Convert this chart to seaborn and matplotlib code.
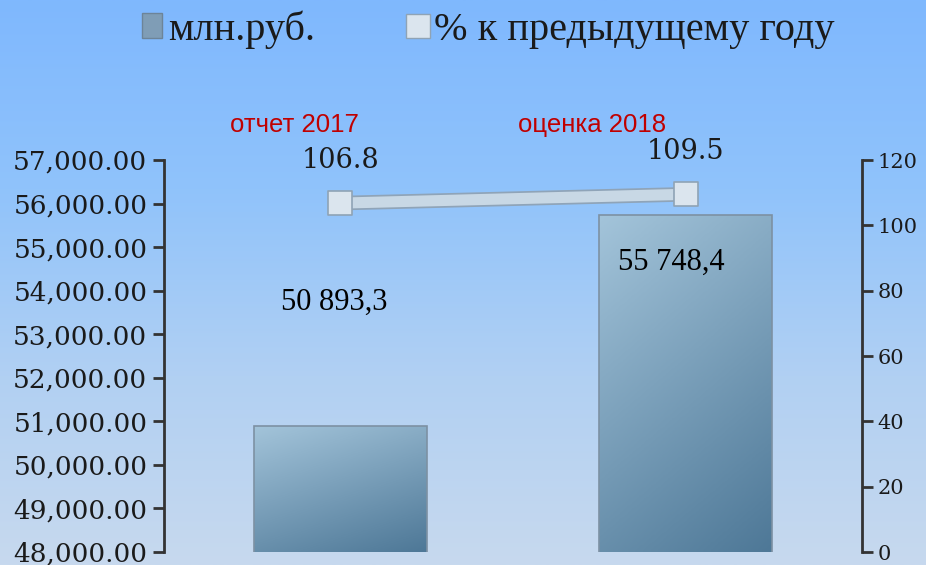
import numpy as np
import pandas as pd
import matplotlib
matplotlib.use("Agg")
import matplotlib.pyplot as plt
from matplotlib.colors import LinearSegmentedColormap
from matplotlib.lines import Line2D
from matplotlib.patches import Patch
import matplotlib.patheffects as pe
import seaborn as sb

categorii = ["отчет 2017", "оценка 2018"]
mln_rub = [50893.3, 55748.4]
procent = [106.8, 109.5]
etichete_bare = ["50 893,3", "55 748,4"]
etichete_procent = ["106.8", "109.5"]
ticks_stanga = [48000, 49000, 50000, 51000, 52000, 53000, 54000, 55000, 56000, 57000]
ticks_dreapta = [0, 20, 40, 60, 80, 100, 120]

sb.set_style("white")
plt.rcParams["font.family"] = ["DejaVu Serif"]
plt.rcParams["text.color"] = "#1a1a1a"

W, H = 926, 565
fig = plt.figure(figsize=(W / 100, H / 100), dpi=100)

# fundal cu gradient vertical
bg = fig.add_axes([0, 0, 1, 1], zorder=-10)
bg_cmap = LinearSegmentedColormap.from_list(
    "bg", ["#7fb8fe", "#90c3fb", "#b1d0f3", "#c7d9ee"])
bg.imshow(np.linspace(0, 1, 256).reshape(-1, 1), aspect="auto", cmap=bg_cmap,
          extent=[0, 1, 0, 1], origin="upper")
bg.set_axis_off()

ax = fig.add_axes([164 / W, 1 - 552 / H, (862 - 164) / W, (552 - 160) / H])
ax.patch.set_visible(False)

t = pd.DataFrame({"categorie": categorii, "valoare": mln_rub})
sb.barplot(data=t, x="categorie", y="valoare", ax=ax, width=0.5,
           color="#7a9ab5", edgecolor="#7d91a3", linewidth=1.2, saturation=1)
ax.set_ylim(48000, 57000)
ax.set_xlim(-0.51, 1.51)

# gradient pe bare (stanga-sus deschis, dreapta-jos inchis)
bar_cmap = LinearSegmentedColormap.from_list("bar", ["#a3c4da", "#4e7897"])
gy, gx = np.mgrid[0:1:100j, 0:1:100j]
grad = 0.7 * gy + 0.3 * gx
for bara in ax.patches:
    x0, w, h = bara.get_x(), bara.get_width(), bara.get_height()
    im = ax.imshow(grad, cmap=bar_cmap, aspect="auto", origin="upper",
                   extent=[x0, x0 + w, 48000, h], zorder=bara.get_zorder() + 0.1)
    im.set_clip_path(bara)
    bara.set_facecolor("none")
    bara.set_zorder(bara.get_zorder() + 0.2)

ax.set_xlabel("")
ax.set_ylabel("")
ax.set_xticks([])
ax.set_yticks(ticks_stanga)
ax.set_yticklabels(["{:,.2f}".format(v) for v in ticks_stanga], fontsize=19)
ax.tick_params(axis="y", direction="out", length=8, width=2, color="#333333",
               pad=4, left=True, labelcolor="#1a1a1a")
for s in ["top", "right", "bottom"]:
    ax.spines[s].set_visible(False)
ax.spines["left"].set_color("#333333")
ax.spines["left"].set_linewidth(2)

for i, (v, et) in enumerate(zip(mln_rub, etichete_bare)):
    dy = 124 if i == 0 else -48
    dx = -6 if i == 0 else -14
    ax.annotate(et, (i, v), xytext=(dx * 0.72, dy * 0.72), textcoords="offset points",
                ha="center", va="center", fontsize=22, family="Liberation Serif",
                color="black")

for i, c in enumerate(categorii):
    dx = -46 if i == 0 else -94
    ax.annotate(c, (i, 1), xycoords=("data", "axes fraction"),
                xytext=(dx * 0.72, 35 * 0.72), textcoords="offset points",
                ha="center", va="center", fontsize=18.5, family="Liberation Sans",
                color="#c00000")

# axa secundara pentru procente
ax2 = ax.twinx()
ax2.set_ylim(0, 120)
poz = np.arange(len(categorii))
sb.lineplot(x=poz, y=procent, ax=ax2, color="#c8d8e5", linewidth=8,
            path_effects=[pe.Stroke(linewidth=10.5, foreground="#8fa4b8"), pe.Normal()])
sb.scatterplot(x=poz, y=procent, ax=ax2, marker="s", s=300, color="#dbe5ee",
               edgecolor="#8fa3b5", linewidth=1.2, zorder=5)
for i, (v, et) in enumerate(zip(procent, etichete_procent)):
    ax2.annotate(et, (i, v), xytext=(0, 31), textcoords="offset points",
                 ha="center", va="center", fontsize=19.5)

ax2.set_yticks(ticks_dreapta)
ax2.set_yticklabels([str(v) for v in ticks_dreapta], fontsize=15)
ax2.tick_params(axis="y", direction="out", length=8, width=2, color="#333333",
                pad=3, right=True, labelcolor="#1a1a1a")
for s in ["top", "left", "bottom"]:
    ax2.spines[s].set_visible(False)
ax2.spines["right"].set_color("#333333")
ax2.spines["right"].set_linewidth(2)
ax2.set_xlim(-0.51, 1.51)

# legenda
h1 = Patch(facecolor="#7f9db6", edgecolor="#6d8498")
h2 = Line2D([], [], marker="s", markersize=17, linestyle="none",
            markerfacecolor="#dbe5ee", markeredgecolor="#8fa3b5")
fig.legend([h1, h2], ["млн.руб.", "% к предыдущему году"], loc="center",
           bbox_to_anchor=(0.527, 0.948), ncol=2, frameon=False,
           prop={"family": "Liberation Serif", "size": 29},
           handlelength=0.5, handleheight=0.6, handletextpad=0.15, columnspacing=2.3)

fig.savefig("out.png", dpi=100)
